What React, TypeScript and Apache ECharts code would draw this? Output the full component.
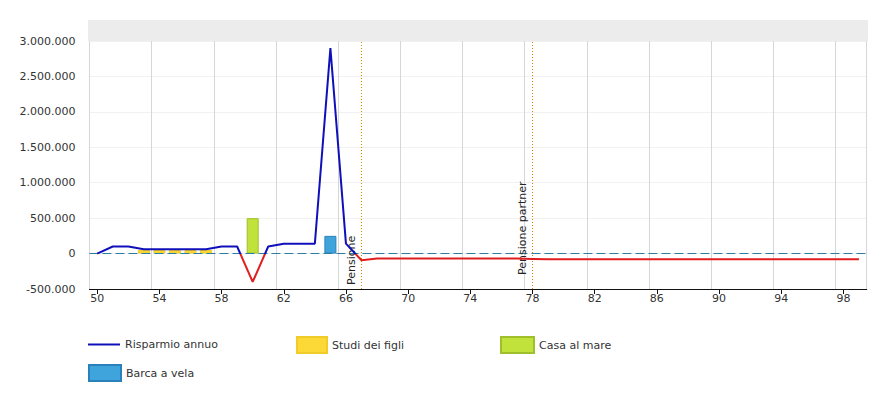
import React, { useEffect, useRef } from "react";
import * as echarts from "echarts";

const ages = [
  "50", "51", "52", "53", "54", "55", "56", "57", "58", "59",
  "60", "61", "62", "63", "64", "65", "66", "67", "68", "69",
  "70", "71", "72", "73", "74", "75", "76", "77", "78", "79",
  "80", "81", "82", "83", "84", "85", "86", "87", "88", "89",
  "90", "91", "92", "93", "94", "95", "96", "97", "98", "99",
];

const risparmioAnnuo = [
  0, 100000, 100000, 60000, 60000, 60000, 60000, 60000, 100000, 100000,
  -400000, 100000, 140000, 140000, 140000, 2900000, 140000, -95000, -70000, -70000,
  -70000, -70000, -70000, -70000, -70000, -70000, -70000, -70000, -75000, -80000,
  -80000, -80000, -80000, -80000, -80000, -80000, -80000, -80000, -80000, -80000,
  -80000, -80000, -80000, -80000, -80000, -80000, -80000, -80000, -80000, -80000,
];

// [age, value]
const studiDeiFigli: [string, number][] = [
  ["53", 50000], ["54", 50000], ["55", 50000], ["56", 50000], ["57", 50000],
];
const casaAlMare: [string, number][] = [["60", 500000]];
const barcaAVela: [string, number][] = [["65", 250000]];

const eventLines = [
  { age: "67", label: "Pensione", lift: 4 },
  { age: "78", label: "Pensione partner", lift: 14 },
];

const FONT = "DejaVu Sans, Verdana, sans-serif";

const fmt = (v: number) => {
  const s = String(Math.abs(v)).replace(/\B(?=(\d{3})+(?!\d))/g, ".");
  return (v < 0 ? "-" : "") + s;
};

const toSeriesData = (pairs: [string, number][]) =>
  ages.map((a) => {
    const p = pairs.find((x) => x[0] === a);
    return p ? p[1] : null;
  });

export default function App() {
  const ref = useRef<HTMLDivElement>(null);
  useEffect(() => {
    if (!ref.current) return;
    const chart = echarts.init(ref.current, null, { renderer: "svg" });
    const legendText = { fontSize: 11, color: "#333", fontFamily: FONT };
    const barSeries = (name: string, pairs: [string, number][], color: string, border: string, extra: any = {}) => ({
      name,
      type: "bar",
      stack: "spese",
      barWidth: 12,
      data: toSeriesData(pairs),
      itemStyle: { color, borderColor: border, borderWidth: 1 },
      z: 1,
      ...extra,
    });
    const markLine = {
      silent: true,
      symbol: "none",
      z: 3,
      data: [
        {
          yAxis: 0,
          lineStyle: { color: "#2a7fa0", type: [9, 4], width: 1 },
          label: { show: false },
        },
        ...eventLines.map((e) => ({
          xAxis: e.age,
          lineStyle: { color: "#d48a00", type: [1, 2], width: 1 },
          label: {
            show: true,
            formatter: e.label,
            position: "insideStartTop",
            distance: [e.lift, 4],
            fontSize: 11,
            color: "#222",
            fontFamily: FONT,
          },
        })),
      ],
    };
    chart.setOption({
      animation: false,
      textStyle: { fontFamily: FONT },
      graphic: [
        {
          type: "rect",
          left: 88,
          top: 20,
          shape: { width: 780, height: 21 },
          style: { fill: "#ececec" },
          silent: true,
        },
      ],
      grid: { left: 89.45, right: 21.28, top: 41, bottom: 111, containLabel: false },
      visualMap: {
        show: false,
        type: "piecewise",
        seriesIndex: 0,
        dimension: 1,
        pieces: [
          { min: -100000000, max: 0, color: "#e01e1e" },
          { min: 0, max: 100000000, color: "#1010bb" },
        ],
        outOfRange: { color: "#1010bb" },
      },
      xAxis: {
        type: "category",
        data: ages,
        boundaryGap: true,
        axisLine: { show: true, onZero: false, lineStyle: { color: "#111", width: 1 } },
        axisTick: { show: true, alignWithLabel: true, interval: 3, length: 5, lineStyle: { color: "#111" } },
        axisLabel: { interval: 3, fontSize: 11, color: "#333", margin: 4, fontFamily: FONT },
        splitLine: { show: true, interval: 3, lineStyle: { color: "#d6d6d6", width: 1 } },
      },
      yAxis: {
        type: "value",
        min: -500000,
        max: 3000000,
        interval: 500000,
        axisLine: { show: false },
        axisTick: { show: false },
        axisLabel: { fontSize: 11, color: "#333", margin: 14, fontFamily: FONT, formatter: fmt },
        splitLine: { show: true, lineStyle: { color: "#f1f1f1", width: 1 } },
      },
      legend: [
        {
          data: [{ name: "Risparmio annuo", icon: "rect", itemStyle: { color: "#1010bb" } }],
          left: 88,
          top: 339,
          padding: 0,
          itemWidth: 32,
          itemHeight: 2,
          itemGap: 5,
          textStyle: legendText,
          selectedMode: false,
        },
        {
          data: [{ name: "Studi dei figli", icon: "rect" }],
          left: 296,
          top: 336,
          padding: 0,
          itemWidth: 30,
          itemHeight: 16,
          textStyle: legendText,
          selectedMode: false,
        },
        {
          data: [{ name: "Casa al mare", icon: "rect" }],
          left: 500,
          top: 336,
          padding: 0,
          itemWidth: 33,
          itemHeight: 16,
          textStyle: legendText,
          selectedMode: false,
        },
        {
          data: [{ name: "Barca a vela", icon: "rect" }],
          left: 88,
          top: 364,
          padding: 0,
          itemWidth: 32,
          itemHeight: 16,
          textStyle: legendText,
          selectedMode: false,
        },
      ],
      series: [
        {
          name: "Risparmio annuo",
          type: "line",
          data: risparmioAnnuo,
          showSymbol: false,
          symbol: "none",
          lineStyle: { width: 2 },
          z: 5,
        },
        barSeries("Studi dei figli", studiDeiFigli, "#fcd937", "#f0cc2a", { markLine }),
        barSeries("Casa al mare", casaAlMare, "#c1e23a", "#9fbf2c"),
        barSeries("Barca a vela", barcaAVela, "#3fa4dc", "#2a80b9"),
      ],
    });
    return () => chart.dispose();
  }, []);
  return (
    <div
      ref={ref}
      style={{ position: "fixed", left: 0, top: 0, width: 888, height: 400, background: "#fff" }}
    />
  );
}
